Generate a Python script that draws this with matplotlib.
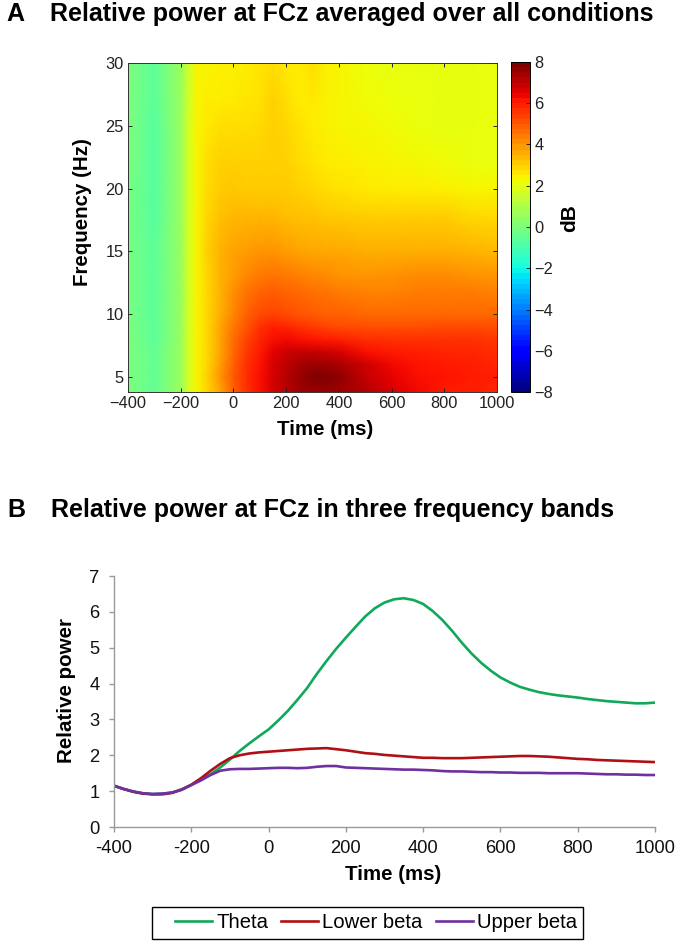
import numpy as np
import matplotlib
matplotlib.use("Agg")
import matplotlib.pyplot as plt
from matplotlib.colors import Normalize
from matplotlib.patches import Rectangle

plt.rcParams['font.family'] = ['Liberation Sans', 'DejaVu Sans']

# Panel A
map_times = [-400,-300,-200,-170,-140,-100,-50,0,50,100,150,200,250,300,350,400,500,600,700,800,900,1000]
map_freqs = [3.8,5,6,7,8,9,10,12,13,15,18,20,22,25,27,30]
p_03_8 = [0.0,-.5,.6,1.7,2.4,2.9,3.8,4.9,5.7,6.3,6.8,7.2,7.5,7.6,7.6,7.5,7.3,6.8,6.4,6.1,6.0,5.9]
p_05 = [0.0,-.5,.6,1.7,2.4,3.0,4.0,5.0,5.8,6.3,6.8,7.2,7.6,8.0,8.0,7.8,7.0,6.5,6.3,6.2,6.1,6.0]
p_06 = [0.0,-.5,.6,1.7,2.4,2.9,3.9,4.9,5.7,6.2,6.7,7.1,7.4,7.6,7.5,7.4,6.9,6.4,6.2,6.1,6.0,5.9]
p_07 = [0.0,-.5,.6,1.7,2.4,2.9,3.8,4.8,5.6,6.1,6.6,6.9,7.0,7.0,6.9,6.8,6.3,6.1,6.0,5.9,5.9,5.8]
p_08 = [0.0,-.6,.5,1.7,2.4,2.9,3.8,4.7,5.4,5.9,6.3,6.4,6.3,6.2,6.1,6.0,5.8,5.7,5.7,5.7,5.7,5.6]
p_09 = [0.0,-.6,.5,1.7,2.4,2.9,3.7,4.5,5.1,5.7,6.0,5.9,5.7,5.5,5.4,5.3,5.2,5.2,5.2,5.3,5.3,5.2]
p_10 = [-.1,-.6,.5,1.7,2.4,2.9,3.6,4.3,4.9,5.3,5.4,5.3,5.1,5.0,4.9,4.9,4.8,4.8,4.8,4.8,4.8,4.8]
p_12 = [-.1,-.6,.5,1.7,2.4,2.9,3.5,4.1,4.5,4.8,4.9,4.8,4.7,4.6,4.5,4.4,4.3,4.3,4.4,4.4,4.4,4.3]
p_13 = [-.1,-.6,.5,1.7,2.4,2.9,3.5,3.9,4.3,4.5,4.6,4.5,4.4,4.3,4.2,4.1,4.0,4.1,4.2,4.2,4.1,4.0]
p_15 = [-.1,-.6,.5,1.7,2.4,3.0,3.5,3.8,3.9,4.0,4.0,3.9,3.8,3.7,3.7,3.7,3.6,3.6,3.6,3.6,3.5,3.4]
p_18 = [-.1,-.7,.6,1.7,2.4,2.9,3.3,3.4,3.4,3.4,3.4,3.3,3.2,3.2,3.1,3.1,3.0,3.0,3.0,3.0,2.85,2.75]
p_20 = [-.1,-.7,.6,1.7,2.4,2.85,3.1,3.15,3.1,3.1,3.1,3.1,3.0,2.9,2.8,2.7,2.6,2.55,2.5,2.45,2.4,2.4]
p_22 = [0.0,-.7,.6,1.7,2.4,2.75,3.0,3.0,3.0,3.0,3.05,3.0,2.85,2.7,2.6,2.5,2.45,2.4,2.35,2.25,2.15,2.15]
p_25 = [0.0,-.7,.6,1.7,2.4,2.6,2.75,2.8,2.8,2.85,3.0,2.9,2.7,2.55,2.45,2.4,2.35,2.25,2.15,2.1,2.1,2.15]
p_27 = [0.0,-.6,.6,1.6,2.4,2.5,2.55,2.6,2.65,2.7,3.0,2.75,2.55,2.6,2.45,2.4,2.3,2.2,2.15,2.1,2.1,2.15]
p_30 = [0.0,-.6,.6,1.6,2.4,2.4,2.45,2.45,2.5,2.65,2.75,2.6,2.5,2.8,2.45,2.4,2.2,2.1,2.1,2.1,2.1,2.15]
map_rows = [p_03_8,p_05,p_06,p_07,p_08,p_09,p_10,p_12,p_13,p_15,p_18,p_20,p_22,p_25,p_27,p_30]
map_xticks = [-400,-200,0,200,400,600,800,1000]
map_yticks = [5,10,15,20,25,30]
cbar_ticks = [-8,-6,-4,-2,0,2,4,6,8]

# Panel B
line_times = list(range(-400,1001,25))
theta = [1.15,1.06,.99,.94,.92,.93,.96,1.05,1.17,1.32,1.47,1.66,1.88,2.12,2.33,2.53,
         2.72,2.97,3.24,3.55,3.88,4.27,4.63,4.97,5.28,5.58,5.87,6.10,6.26,6.35,6.38,6.33,
         6.22,6.02,5.77,5.47,5.14,4.84,4.58,4.36,4.17,4.03,3.91,3.83,3.76,3.71,3.67,3.64,
         3.61,3.57,3.54,3.51,3.49,3.47,3.45,3.45,3.47]
lower_beta = [1.15,1.06,.98,.93,.91,.91,.95,1.04,1.18,1.36,1.57,1.76,1.92,2.00,2.05,2.08,
              2.10,2.12,2.14,2.16,2.18,2.19,2.20,2.17,2.14,2.10,2.06,2.04,2.01,1.99,1.97,1.95,
              1.93,1.93,1.92,1.92,1.92,1.93,1.94,1.95,1.96,1.97,1.98,1.98,1.97,1.96,1.94,1.92,
              1.90,1.89,1.87,1.86,1.85,1.84,1.83,1.82,1.81]
upper_beta = [1.15,1.06,.99,.94,.92,.93,.96,1.04,1.17,1.30,1.45,1.57,1.61,1.62,1.62,1.63,
              1.64,1.65,1.65,1.64,1.65,1.68,1.70,1.70,1.66,1.65,1.64,1.63,1.62,1.61,1.60,1.60,
              1.59,1.58,1.56,1.55,1.55,1.54,1.53,1.53,1.52,1.52,1.51,1.51,1.51,1.50,1.50,1.50,
              1.50,1.49,1.48,1.47,1.47,1.46,1.46,1.45,1.45]
line_yticks = [0,1,2,3,4,5,6,7]
line_xticks = [-400,-200,0,200,400,600,800,1000]

W, H = 689, 944
def rect(l, t, r, b):
    return [l/W, 1-b/H, (r-l)/W, (b-t)/H]

fig = plt.figure(figsize=(W/100, H/100), dpi=100, facecolor='white')
cmap = plt.get_cmap('jet', 64)
norm = Normalize(-8, 8)

ax = fig.add_axes(rect(128, 63, 497, 392))
ax.pcolormesh(map_times, map_freqs, np.array(map_rows), cmap=plt.get_cmap('jet'), norm=norm,
              shading='gouraud', rasterized=True)
ax.set_xlim(-400, 1000); ax.set_ylim(3.8, 30)
ax.set_xticks(map_xticks); ax.set_yticks(map_yticks)
ax.set_xticklabels(['\u2212400','\u2212200','0','200','400','600','800','1000'])
ax.tick_params(direction='in', top=True, right=True, length=3, width=0.7, labelsize=11.8, pad=3, colors='#222222')
for s in ax.spines.values():
    s.set_linewidth(0.7); s.set_color('#333333')
ax.set_xlabel('Time (ms)', fontsize=14.8, fontweight='bold')
ax.xaxis.set_label_coords((325-128)/369, (392-420)/329)
ax.set_ylabel('Frequency (Hz)', fontsize=14.8, fontweight='bold')
ax.yaxis.set_label_coords((92-128)/369, (392-212)/329)

cax = fig.add_axes(rect(511, 62, 530, 392))
sm = plt.cm.ScalarMappable(norm=norm, cmap=cmap)
cb = fig.colorbar(sm, cax=cax, ticks=cbar_ticks)
cb.ax.set_yticklabels(['\u22128','\u22126','\u22124','\u22122','0','2','4','6','8'])
cb.ax.tick_params(direction='in', length=3, width=0.7, labelsize=11.8, pad=3, colors='#222222')
cb.outline.set_linewidth(0.7)
cb.set_label('dB', fontsize=15, fontweight='bold')
cb.ax.yaxis.set_label_coords((560-511)/19, (392-218)/330)

ax2 = fig.add_axes(rect(114, 576, 655, 827))
ax2.plot(line_times, theta, color='#10A85A', lw=1.9, label='Theta')
ax2.plot(line_times, lower_beta, color='#B01015', lw=1.9, label='Lower beta')
ax2.plot(line_times, upper_beta, color='#7030A0', lw=1.9, label='Upper beta')
ax2.set_xlim(-400, 1000); ax2.set_ylim(0, 7)
ax2.set_xticks(line_xticks); ax2.set_yticks(line_yticks)
ax2.set_xticklabels([str(v) for v in line_xticks])
ax2.spines['top'].set_visible(False); ax2.spines['right'].set_visible(False)
for s in ('left', 'bottom'):
    ax2.spines[s].set_color('#999999'); ax2.spines[s].set_linewidth(1.0)
ax2.tick_params(axis='both', direction='out', length=3.6, width=1.0, color='#999999',
                labelsize=13.2, labelcolor='#111111')
ax2.tick_params(axis='x', pad=6)
ax2.tick_params(axis='y', pad=7)
ax2.set_xlabel('Time (ms)', fontsize=14.8, fontweight='bold')
ax2.xaxis.set_label_coords((393-114)/541, (827-865)/251)
ax2.set_ylabel('Relative power', fontsize=14.8, fontweight='bold')
ax2.yaxis.set_label_coords((76-114)/541, (827-691)/251)

fig.add_artist(Rectangle((152/W, 1-939/H), (583-152)/W, 32/H, transform=fig.transFigure,
                         fill=False, edgecolor='black', linewidth=1.0))
leg = fig.legend(*ax2.get_legend_handles_labels(), ncol=3, loc='center',
                 bbox_to_anchor=(376/W, 1-923/H), fontsize=14.6, frameon=False,
                 handlelength=1.82, handletextpad=0.2, columnspacing=0.65, borderpad=0, borderaxespad=0)

fig.text(6/W, 1-14/H, 'A', fontsize=18, fontweight='bold', va='center')
fig.text(50/W, 1-14/H, 'Relative power at FCz averaged over all conditions', fontsize=18, fontweight='bold', va='center')
fig.text(7/W, 1-510/H, 'B', fontsize=18, fontweight='bold', va='center')
fig.text(51/W, 1-510/H, 'Relative power at FCz in three frequency bands', fontsize=18, fontweight='bold', va='center')

fig.savefig('out.png', dpi=100)
